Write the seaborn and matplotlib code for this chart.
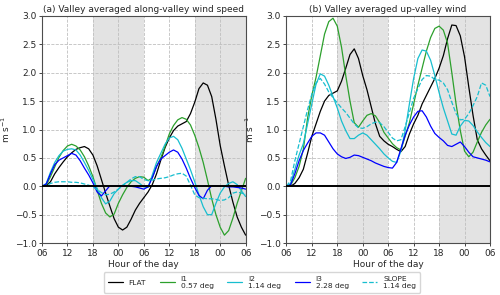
import matplotlib
matplotlib.use("Agg")
import matplotlib.pyplot as plt
import numpy as np
import pandas as pd
import seaborn as sns

# hours since 00 of day 1 (06 -> 06 two days later)
hours = list(range(7, 55))
tick_hours = [6, 12, 18, 24, 30, 36, 42, 48, 54]
tick_labels = ['06', '12', '18', '00', '06', '12', '18', '00', '06']

# (a) along-valley wind speed
a_flat = [0.01, 0.08, 0.22, 0.33, 0.43, 0.52, 0.59, 0.65, 0.68, 0.70, 0.66, 0.55,
          0.36, 0.12, -0.12, -0.35, -0.57, -0.72, -0.77, -0.72, -0.58, -0.42, -0.30, -0.20,
          -0.10, 0.03, 0.22, 0.46, 0.68, 0.85, 0.98, 1.06, 1.10, 1.14, 1.28, 1.48,
          1.72, 1.82, 1.78, 1.58, 1.18, 0.72, 0.36, 0.02, -0.28, -0.54, -0.72, -0.86]
a_i1 = [0.02, 0.17, 0.34, 0.51, 0.63, 0.71, 0.74, 0.71, 0.64, 0.52, 0.36, 0.17,
        -0.07, -0.30, -0.47, -0.54, -0.49, -0.30, -0.15, -0.02, 0.08, 0.14, 0.17, 0.16,
        0.10, 0.15, 0.35, 0.50, 0.70, 0.92, 1.07, 1.17, 1.21, 1.18, 1.08, 0.90,
        0.68, 0.42, 0.11, -0.22, -0.50, -0.72, -0.86, -0.78, -0.56, -0.30, -0.08, 0.14]
a_i2 = [0.05, 0.25, 0.42, 0.54, 0.62, 0.65, 0.66, 0.64, 0.55, 0.42, 0.28, 0.12,
        -0.04, -0.20, -0.31, -0.26, -0.13, -0.05, 0.02, 0.07, 0.10, 0.10, 0.05, -0.01,
        -0.02, 0.20, 0.42, 0.58, 0.74, 0.85, 0.88, 0.82, 0.67, 0.48, 0.29, 0.08,
        -0.15, -0.36, -0.50, -0.50, -0.30, -0.12, -0.01, 0.05, 0.08, 0.03, -0.08, -0.18]
a_i3 = [0.04, 0.22, 0.38, 0.46, 0.50, 0.54, 0.58, 0.55, 0.45, 0.32, 0.20, 0.06,
        -0.10, -0.17, -0.08, 0.01, 0.01, 0.01, 0.01, 0.00, 0.00, -0.01, -0.03, -0.05,
        -0.01, 0.15, 0.35, 0.48, 0.54, 0.60, 0.64, 0.60, 0.48, 0.32, 0.14, -0.02,
        -0.16, -0.22, -0.07, 0.01, 0.01, 0.00, 0.00, -0.01, -0.01, -0.02, -0.03, -0.05]
a_slope = [0.01, 0.05, 0.07, 0.08, 0.08, 0.08, 0.07, 0.07, 0.06, 0.04, 0.02, -0.01,
           -0.06, -0.11, -0.15, -0.14, -0.10, -0.05, 0.01, 0.07, 0.13, 0.17, 0.17, 0.12,
           0.10, 0.11, 0.13, 0.14, 0.15, 0.17, 0.20, 0.22, 0.23, 0.18, 0.02, -0.15,
           -0.20, -0.21, -0.22, -0.22, -0.23, -0.25, -0.24, -0.20, -0.12, -0.10, -0.12, -0.14]

# (b) up-valley wind
b_flat = [0.00, 0.05, 0.15, 0.30, 0.58, 0.88, 1.10, 1.32, 1.50, 1.60, 1.64, 1.68,
          1.85, 2.08, 2.32, 2.42, 2.25, 1.95, 1.70, 1.40, 1.10, 0.88, 0.80, 0.74,
          0.70, 0.65, 0.61, 0.70, 0.92, 1.10, 1.25, 1.45, 1.60, 1.75, 1.90, 2.08,
          2.30, 2.60, 2.84, 2.83, 2.65, 2.28, 1.75, 1.25, 0.82, 0.66, 0.55, 0.45]
b_i1 = [0.02, 0.15, 0.35, 0.65, 1.20, 1.60, 1.92, 2.30, 2.68, 2.90, 2.96, 2.82,
        2.45, 1.95, 1.50, 1.12, 1.04, 1.15, 1.25, 1.28, 1.24, 1.12, 0.95, 0.85,
        0.75, 0.68, 0.64, 0.88, 1.12, 1.45, 1.78, 2.08, 2.38, 2.62, 2.78, 2.82,
        2.75, 2.52, 2.00, 1.45, 0.98, 0.62, 0.52, 0.60, 0.78, 0.95, 1.08, 1.18]
b_i2 = [0.05, 0.30, 0.55, 0.75, 1.10, 1.45, 1.80, 1.98, 1.94, 1.78, 1.58, 1.38,
        1.15, 0.98, 0.84, 0.84, 0.90, 0.94, 0.90, 0.82, 0.74, 0.66, 0.57, 0.50,
        0.44, 0.42, 0.62, 0.98, 1.45, 1.90, 2.25, 2.40, 2.38, 2.22, 1.95, 1.65,
        1.38, 1.15, 0.92, 0.90, 1.06, 1.16, 1.15, 1.07, 0.96, 0.86, 0.77, 0.70]
b_i3 = [0.03, 0.22, 0.45, 0.63, 0.76, 0.88, 0.94, 0.94, 0.90, 0.78, 0.66, 0.57,
        0.52, 0.49, 0.51, 0.55, 0.54, 0.51, 0.48, 0.45, 0.41, 0.38, 0.35, 0.33,
        0.32, 0.42, 0.66, 0.90, 1.08, 1.22, 1.32, 1.33, 1.22, 1.06, 0.93, 0.86,
        0.80, 0.72, 0.70, 0.74, 0.78, 0.70, 0.60, 0.52, 0.50, 0.48, 0.46, 0.43]
b_slope = [0.10, 0.45, 0.75, 1.05, 1.35, 1.62, 1.82, 1.90, 1.80, 1.66, 1.56, 1.47,
           1.38, 1.30, 1.20, 1.10, 1.03, 1.02, 1.05, 1.10, 1.13, 1.12, 1.05, 0.95,
           0.85, 0.80, 0.82, 1.05, 1.30, 1.55, 1.72, 1.88, 1.95, 1.94, 1.88, 1.87,
           1.82, 1.70, 1.48, 1.28, 1.17, 1.18, 1.28, 1.42, 1.58, 1.82, 1.78, 1.58]

names = ['FLAT', 'I1\n0.57 deg', 'I2\n1.14 deg', 'I3\n2.28 deg', 'SLOPE\n1.14 deg']
colors = ['black', 'tab:green', 'tab:cyan', 'blue', 'tab:cyan']
styles = ['-', '-', '-', '-', '--']

sns.set_style("ticks")
plt.rcParams['font.family'] = ['DejaVu Sans']

fig, axes = plt.subplots(1, 2, figsize=(5, 2.95), dpi=100)
fig.subplots_adjust(left=0.084, right=0.98, top=0.946, bottom=0.176, wspace=0.2)

panels = [
    (axes[0], [a_flat, a_i1, a_i2, a_i3, a_slope], '(a) Valley averaged along-valley wind speed'),
    (axes[1], [b_flat, b_i1, b_i2, b_i3, b_slope], '(b) Valley averaged up-valley wind'),
]

for ax, series, title in panels:
    ax.axvspan(18, 30, color='#e3e3e3', zorder=0, lw=0)
    ax.axvspan(42, 54, color='#e3e3e3', zorder=0, lw=0)
    for vals, name, c, ls in zip(series, names, colors, styles):
        d = pd.DataFrame({'hour': [6] + hours, 'v': [0.0] + vals})
        sns.lineplot(data=d, x='hour', y='v', ax=ax, color=c, linestyle=ls,
                     lw=0.9, label=name, legend=False)
    ax.axhline(0, color='black', lw=1.4, zorder=3)
    ax.set_xlim(6, 54)
    ax.set_ylim(-1, 3)
    ax.set_xticks(tick_hours)
    ax.set_xticklabels(tick_labels)
    ax.set_yticks(np.arange(-1, 3.01, 0.5))
    ax.grid(True, ls='--', color='0.75', lw=0.6)
    ax.set_axisbelow(True)
    ax.tick_params(labelsize=6.5, length=2.5, width=0.6, pad=1.5)
    ax.set_xlabel('Hour of the day', fontsize=6.5, labelpad=1.5)
    ax.set_ylabel('m s$^{-1}$', fontsize=6.5, labelpad=2)
    ax.set_title(title, fontsize=6.5, pad=2.5)
    for s in ax.spines.values():
        s.set_color('0.3')
        s.set_linewidth(0.8)

handles, labels = axes[0].get_legend_handles_labels()
fig.legend(handles, labels, loc='lower center', ncol=5, fontsize=5.4,
           bbox_to_anchor=(0.524, -0.005), frameon=True, handlelength=2.0,
           columnspacing=1.8, borderpad=0.5, handletextpad=0.8)

fig.savefig('out.png', dpi=100)
